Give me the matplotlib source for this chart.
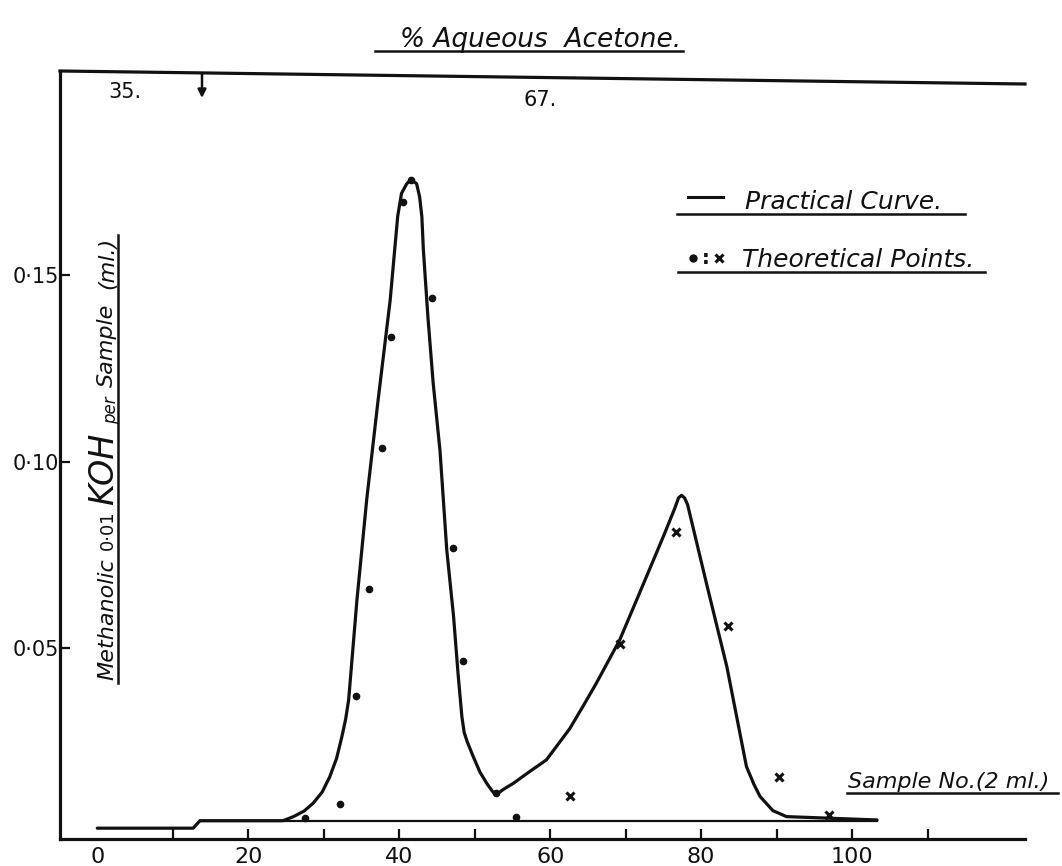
import matplotlib
matplotlib.use("Agg")
import matplotlib.pyplot as plt
from matplotlib.lines import Line2D

# Practical curve: methanolic 0.01 KOH titre per 2 ml sample
curve_x = [0.0, 12.7, 13.6, 24.6, 26.0, 27.4, 28.6, 29.8, 30.8, 31.7, 32.4,
           32.9, 33.3, 34.4, 35.7, 37.2, 38.8, 39.8, 40.3, 41.0, 41.6, 42.3,
           42.7, 43.0, 43.2, 43.8, 44.5, 45.4, 46.3, 47.2, 47.8, 48.3, 48.6,
           49.0, 49.8, 50.7, 51.6, 52.3, 52.8, 53.8, 55.1, 57.3, 59.5, 62.6,
           64.5, 66.1, 69.2, 72.0, 75.0, 76.5, 77.0, 77.4, 77.8, 78.2, 80.7,
           83.4, 84.7, 86.0, 87.0, 87.8, 89.5, 91.3, 103.3]
curve_y = [0.0018, 0.0018, 0.0038, 0.0038, 0.0049, 0.0064, 0.0085, 0.0115,
           0.0156, 0.0205, 0.0263, 0.0310, 0.0362, 0.0630, 0.0900, 0.1165,
           0.1433, 0.1658, 0.1719, 0.1745, 0.1756, 0.1745, 0.1710, 0.1656,
           0.1567, 0.1388, 0.1210, 0.1030, 0.0763, 0.0585, 0.0430, 0.0317,
           0.0275, 0.0250, 0.0210, 0.0168, 0.0138, 0.0118, 0.0107, 0.0122,
           0.0138, 0.0170, 0.0201, 0.0285, 0.0350, 0.0406, 0.0522, 0.0656,
           0.0800, 0.0875, 0.0903, 0.0910, 0.0903, 0.0885, 0.0674, 0.0451,
           0.0317, 0.0183, 0.0135, 0.0103, 0.0065, 0.0049, 0.0040]

# Base line under the two bands
base_x = [13.6, 103.3]
base_y = [0.0038, 0.0038]

# Theoretical points, first component (dots)
dot_x = [27.5, 32.1, 34.3, 36.0, 37.7, 38.9, 40.5, 41.6, 44.4, 47.1, 48.4,
         52.8, 55.5]
dot_y = [0.0046, 0.0083, 0.0373, 0.0658, 0.1036, 0.1333, 0.1695, 0.1756,
         0.1438, 0.0768, 0.0466, 0.0112, 0.0049]

# Theoretical points, second component (crosses)
cross_x = [62.6, 69.3, 76.6, 83.6, 90.3, 97.0]
cross_y = [0.0105, 0.0511, 0.0812, 0.0561, 0.0155, 0.0054]

x_ticks = [0, 10, 20, 30, 40, 50, 60, 70, 80, 90, 100, 110]
x_tick_labels = ["0", "", "20", "", "40", "", "60", "", "80", "", "100", ""]
y_ticks = [0.05, 0.10, 0.15]
y_tick_labels = ["0·05", "0·10", "0·15"]

W, H = 1062, 866
INK = "#111111"


def fx(px):
    return px / W


def fy(py):
    return 1 - py / H


fig = plt.figure(figsize=(W / 100, H / 100), dpi=100)
fig.patch.set_facecolor("white")
ax = fig.add_axes([fx(60), fy(839), 965 / W, 768 / H])
ax.set_xlim(-4.94, 122.9)
ax.set_ylim(-0.0011, 0.2047)

for side in ("top", "right"):
    ax.spines[side].set_visible(False)
for side in ("left", "bottom"):
    ax.spines[side].set_linewidth(2.3)
    ax.spines[side].set_color(INK)

# Hand-ruled top border, falling slightly to the right
ax.add_line(Line2D([0, 1], [1, 1 - 13 / 768], transform=ax.transAxes,
                   color=INK, lw=2.3, clip_on=False))

ax.set_xticks(x_ticks)
ax.set_xticklabels(x_tick_labels)
ax.set_yticks(y_ticks)
ax.set_yticklabels(y_tick_labels)
ax.tick_params(axis="x", direction="in", length=7, width=1.6, pad=6,
               labelsize=16, colors=INK)
ax.tick_params(axis="y", direction="in", length=7, width=1.6, pad=0.5,
               labelsize=15, colors=INK)
ax.xaxis.get_major_ticks()[0].tick1line.set_visible(False)

# Curve, base line and theoretical points
ax.plot(curve_x, curve_y, color=INK, lw=2.3, solid_joinstyle="round",
        solid_capstyle="round")
ax.plot(base_x, base_y, color=INK, lw=1.6)
ax.plot(dot_x, dot_y, linestyle="none", marker="o", ms=4.5, color=INK)
ax.plot(cross_x, cross_y, linestyle="none", marker="x", ms=6, mew=2.2,
        color=INK)


def hline(x0, x1, py, lw=1.8):
    fig.add_artist(Line2D([fx(x0), fx(x1)], [fy(py), fy(py)], color=INK,
                          lw=lw, transform=fig.transFigure))


# Title
fig.text(fx(400), fy(47), "% Aqueous  Acetone.", fontsize=19,
         style="italic", color=INK, ha="left", va="baseline")
hline(375, 683, 51)

# Solvent change marker along the top border
fig.text(fx(125), fy(92), "35.", fontsize=15, color=INK, ha="center",
         va="center")
fig.text(fx(540), fy(100), "67.", fontsize=15, color=INK, ha="center",
         va="center")
ax.annotate("", xy=(fx(202), fy(98)), xytext=(fx(202), fy(73)),
            xycoords="figure fraction", textcoords="figure fraction",
            arrowprops=dict(arrowstyle="-|>", lw=1.8, color=INK,
                            mutation_scale=12, shrinkA=0, shrinkB=0))

# Key
fig.add_artist(Line2D([fx(688), fx(723)], [fy(197), fy(197)], color=INK,
                      lw=2.2, transform=fig.transFigure))
fig.text(fx(745), fy(209), "Practical Curve.", fontsize=18, style="italic",
         color=INK, ha="left", va="baseline")
hline(677, 965, 214)
fig.add_artist(Line2D([fx(693)], [fy(258)], marker="o", ms=5, color=INK,
                      linestyle="none", transform=fig.transFigure))
fig.text(fx(706), fy(258), ":", fontsize=14, fontweight="bold", color=INK,
         ha="center", va="center")
fig.add_artist(Line2D([fx(719)], [fy(258)], marker="x", ms=6, mew=2.2,
                      color=INK, linestyle="none",
                      transform=fig.transFigure))
fig.text(fx(742), fy(267), "Theoretical Points.", fontsize=18,
         style="italic", color=INK, ha="left", va="baseline")
hline(678, 985, 272)

# x-axis title
fig.text(fx(848), fy(788), "Sample No.(2 ml.)", fontsize=16, style="italic",
         color=INK, ha="left", va="baseline")
hline(847, 1058, 793)

# y-axis title, built from pieces of different sizes
renderer = fig.canvas.get_renderer()
pieces = [("Methanolic", 16, "italic", 0, 8),
          ("0·01", 13, "normal", 0, 6),
          ("KOH", 24, "italic", 0, 8),
          ("per", 12, "italic", 3, 10),
          ("Sample", 16, "italic", 0, 14),
          ("(ml.)", 16, "italic", 0, 0)]
pos = 680
for s, size, st, dx, gap in pieces:
    t = fig.text(fx(113 + dx), fy(pos), s, fontsize=size, style=st,
                 color=INK, rotation=90, rotation_mode="anchor", ha="left",
                 va="baseline")
    bb = t.get_window_extent(renderer)
    pos -= bb.height + gap
fig.add_artist(Line2D([fx(118), fx(118)], [fy(683), fy(pos - 2)], color=INK,
                      lw=1.8, transform=fig.transFigure))

fig.savefig("out.png", dpi=100, facecolor="white")
